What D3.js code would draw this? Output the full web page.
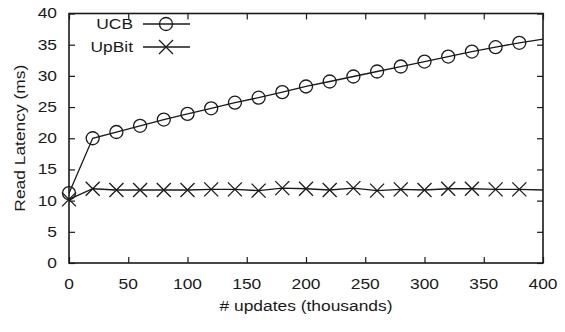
<!DOCTYPE html>
<html>
<head>
<meta charset="utf-8">
<script src="https://cdn.jsdelivr.net/npm/d3@7"></script>
<style>
  html, body { margin: 0; padding: 0; background: #fff; }
  svg { display: block; }
  text { font-family: "Liberation Sans", Arial, Helvetica, sans-serif; fill: #1a1a1a; }
</style>
</head>
<body>
<svg id="chart" width="565" height="332"></svg>
<script>
// Updates applied (thousands)
const updates = [0, 20, 40, 60, 80, 100, 120, 140, 160, 180, 200,
                 220, 240, 260, 280, 300, 320, 340, 360, 380, 400];
// Read latency (ms) per scheme
const ucbLatency = [11.2, 20.0, 21.0, 22.0, 23.0, 23.9, 24.8, 25.7, 26.5, 27.4, 28.3,
                    29.1, 29.9, 30.7, 31.5, 32.3, 33.1, 33.9, 34.6, 35.3, 35.9];
const upbitLatency = [10.2, 11.9, 11.7, 11.7, 11.7, 11.7, 11.8, 11.8, 11.6, 12.0, 11.9,
                      11.7, 12.0, 11.6, 11.8, 11.7, 11.9, 11.9, 11.8, 11.8, 11.7];
const seriesNames = ["UCB", "UpBit"];
const xTicks = [0, 50, 100, 150, 200, 250, 300, 350, 400];
const yTicks = [0, 5, 10, 15, 20, 25, 30, 35, 40];
const xTitle = "# updates (thousands)";
const yTitle = "Read Latency (ms)";

const svg = d3.select("#chart");
const ink = "#1a1a1a";
const plot = { left: 69, right: 543, top: 13.5, bottom: 263 };
const fontSize = 14.5;
const stretch = 1.2;   // type is set slightly wide

const x = d3.scaleLinear().domain([0, 400]).range([plot.left, plot.right]);
const y = d3.scaleLinear().domain([0, 40]).range([plot.bottom, plot.top]);

// wide-set text helper (stretch runs along the text direction)
function label(g, tx, ty, str, anchor, rotate) {
  return g.append("text")
    .attr("transform", `translate(${tx},${ty})` + (rotate ? ` rotate(${rotate})` : "") + ` scale(${stretch},1)`)
    .attr("text-anchor", anchor)
    .attr("dominant-baseline", "central")
    .style("font-size", fontSize + "px")
    .text(str);
}

// axes with inward ticks, mirrored on top and right
const tickLen = 6;
const axB = svg.append("g").attr("transform", `translate(0,${plot.bottom})`)
  .call(d3.axisBottom(x).tickValues(xTicks).tickSize(-tickLen).tickFormat(""));
const axT = svg.append("g").attr("transform", `translate(0,${plot.top})`)
  .call(d3.axisTop(x).tickValues(xTicks).tickSize(-tickLen).tickFormat(""));
const axL = svg.append("g").attr("transform", `translate(${plot.left},0)`)
  .call(d3.axisLeft(y).tickValues(yTicks).tickSize(-tickLen).tickFormat(""));
const axR = svg.append("g").attr("transform", `translate(${plot.right},0)`)
  .call(d3.axisRight(y).tickValues(yTicks).tickSize(-tickLen).tickFormat(""));
[axB, axT, axL, axR].forEach(a => {
  a.select(".domain").remove();
  a.selectAll(".tick line").attr("stroke", ink).attr("stroke-width", 1.2);
});

// tick labels
const tl = svg.append("g");
xTicks.forEach(v => label(tl, x(v), 284, String(v), "middle"));
yTicks.forEach(v => label(tl, plot.left - 12, y(v), String(v), "end"));

// axis titles
label(svg, (plot.left + plot.right) / 2, 306, xTitle, "middle");
label(svg, 20, (plot.top + plot.bottom) / 2, yTitle, "middle", -90);

// series
const series = [
  { name: seriesNames[0], values: ucbLatency, marker: "circle" },
  { name: seriesNames[1], values: upbitLatency, marker: "cross" }
];
const line = d3.line().x((d, i) => x(updates[i])).y(d => y(d));
const R = 6.5, C = 7;

function drawMarker(g, cx, cy, type) {
  if (type === "circle") {
    g.append("circle").attr("cx", cx).attr("cy", cy).attr("r", R)
      .attr("fill", "none").attr("stroke", ink).attr("stroke-width", 1.3);
  } else {
    g.append("path")
      .attr("d", `M${cx - C},${cy - C}L${cx + C},${cy + C}M${cx - C},${cy + C}L${cx + C},${cy - C}`)
      .attr("stroke", ink).attr("stroke-width", 1.3).attr("fill", "none");
  }
}

const marks = svg.append("g");
series.forEach(s => {
  marks.append("path").datum(s.values).attr("d", line)
    .attr("fill", "none").attr("stroke", ink).attr("stroke-width", 1.3);
  s.values.forEach((v, i) => {
    if (updates[i] < 400) drawMarker(marks, x(updates[i]), y(v), s.marker);
  });
});

// plot frame
svg.append("rect")
  .attr("x", plot.left).attr("y", plot.top)
  .attr("width", plot.right - plot.left).attr("height", plot.bottom - plot.top)
  .attr("fill", "none").attr("stroke", ink).attr("stroke-width", 1.6);

// legend
const leg = svg.append("g");
series.forEach((s, i) => {
  const ly = 24 + i * 23;
  label(leg, 133, ly, s.name, "end");
  leg.append("line").attr("x1", 143).attr("x2", 190).attr("y1", ly).attr("y2", ly)
    .attr("stroke", ink).attr("stroke-width", 1.3);
  drawMarker(leg, 166, ly, s.marker);
});
</script>
</body>
</html>
